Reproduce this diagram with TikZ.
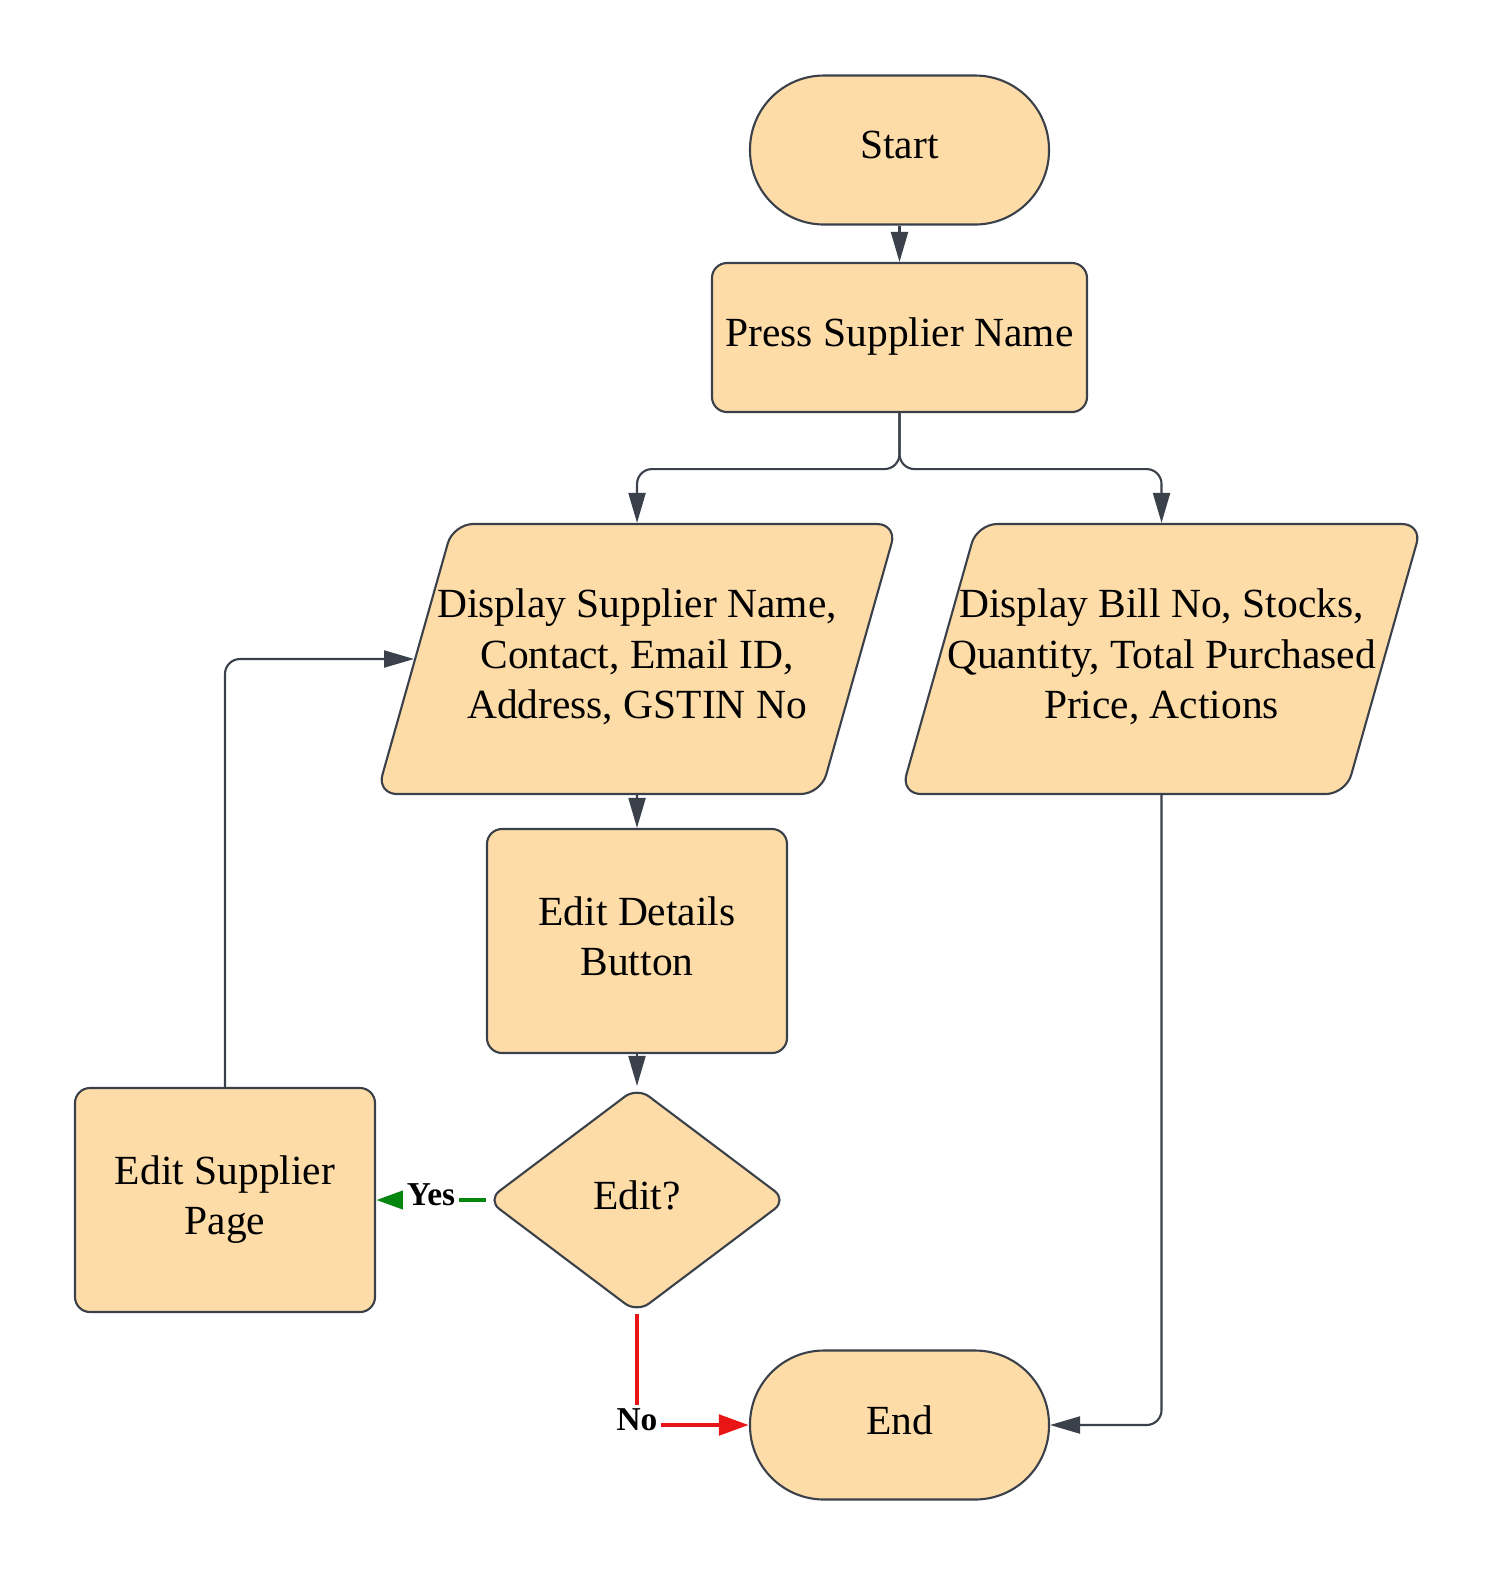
\documentclass[tikz,border=0pt]{standalone}
\usepackage{fontspec}
\setmainfont{Liberation Serif}
\usetikzlibrary{shapes.geometric,arrows.meta}

\definecolor{boxfill}{HTML}{FEDCA7}
\definecolor{boxline}{HTML}{3A414A}
\definecolor{yesgreen}{HTML}{05870F}
\definecolor{nored}{HTML}{E81416}

\tikzstyle{term} = [rectangle, rounded corners=0.74cm, fill = boxfill, minimum width = 2.99cm, minimum height = 1.49cm, text centered, draw = boxline, line width=0.6pt, align=center]
\tikzstyle{proc} = [rectangle, rounded corners=1.5mm, fill = boxfill, minimum width = 3cm, minimum height = 2.24cm, text centered, draw = boxline, line width=0.6pt, align=center]
\tikzstyle{io} = [trapezium, trapezium left angle=73.4, trapezium right angle=106.6, trapezium stretches body=true, rounded corners=2mm, fill = boxfill, minimum width = 5.2cm, minimum height = 2.7cm, inner xsep=-0.3cm, inner ysep=0.58cm, text centered, draw = boxline, line width=0.6pt, align=center]
\tikzstyle{decision} = [diamond, rounded corners=1.5mm, fill = boxfill, minimum width = 3cm, minimum height = 2.26cm, text centered, draw = boxline, line width=0.6pt, align=center]
\tikzstyle{arrow} = [line width=0.6pt, rounded corners=1.5mm, -{Triangle[length=3mm, width=1.7mm]}, draw = boxline]
\tikzstyle{arrowyes} = [line width=1.4pt, -{Triangle[length=3mm, width=2mm]}, draw = yesgreen]
\tikzstyle{arrowno} = [line width=1.4pt, -{Triangle[length=3mm, width=2mm]}, draw = nored]
\tikzstyle{lbl} = [fill = white, inner sep=1pt, font=\fontsize{9.5}{10}\selectfont\bfseries]

\begin{document}
\begin{tikzpicture}[node distance = 1cm, font=\fontsize{11.8}{14.3}\selectfont, execute at end node={\rule[-3pt]{0pt}{1pt}}]
    \useasboundingbox (0,0) rectangle (15,-15.75);
    \node(start)[term] at (8.995,-1.5) {Start};
    \node(press)[proc, below of = start, yshift = -0.875cm, minimum width = 3.75cm, minimum height = 1.49cm]{Press Supplier Name};
    \node(showsupplier)[io, below of = press, xshift = -2.625cm, yshift = -2.215cm]{Display Supplier Name,\\Contact, Email ID,\\Address, GSTIN No};
    \node(showbill)[io, right of = showsupplier, xshift = 4.245cm]{Display Bill No, Stocks,\\Quantity, Total Purchased\\Price, Actions};
    \node(details)[proc, below of = showsupplier, yshift = -1.82cm]{Edit Details\\Button};
    \node(editq)[decision, below of = details, yshift = -1.59cm]{Edit?};
    \node(editpage)[proc, left of = editq, xshift = -3.12cm]{Edit Supplier\\Page};
    \node(finish)[term, below of = editq, yshift = -1.25cm, xshift = 2.625cm]{End};
    \coordinate(split) at ([yshift=-0.56cm]press.south);
    \draw[arrow] (start) -- (press);
    \draw[arrow] (press.south) -- (split) -| (showsupplier.north);
    \draw[arrow] (press.south) -- (split) -| (showbill.north);
    \draw[arrow] (showsupplier.south) -- (details.north);
    \draw[arrow] (details) -- (editq);
    \draw[arrow] (editpage.north) |- (showsupplier.west);
    \draw[arrow] (showbill.south) |- (finish.east);
    \draw[arrowyes] (editq.west) -- (editpage.east) node[midway, lbl] {Yes};
    \draw[arrowno] (editq.south) |- (finish.west) node[pos=0.5, lbl] {No};
\end{tikzpicture}
\end{document}
